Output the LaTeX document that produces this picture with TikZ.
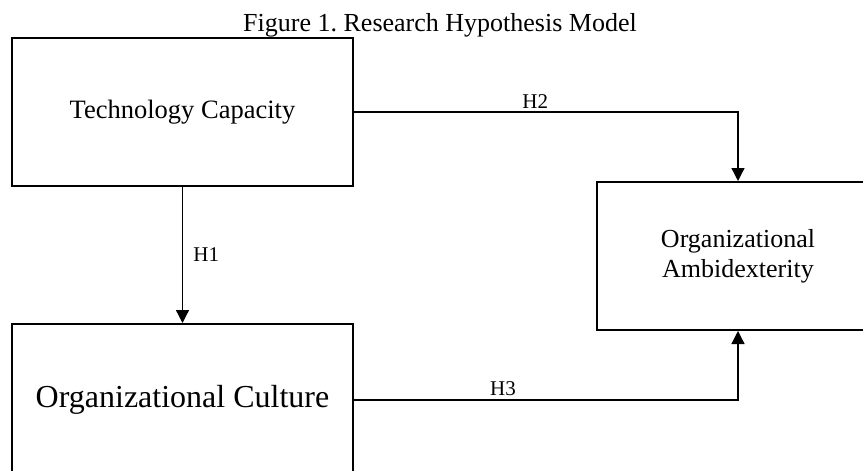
\documentclass[tikz,border=0pt]{standalone}
\usepackage{fontspec}
\setmainfont{Liberation Serif}
\usetikzlibrary{arrows.meta}
\frenchspacing

\begin{document}
\begin{tikzpicture}[x=1pt,y=-1pt,
    box/.style={draw,line width=2pt,minimum width=341pt,minimum height=148pt,inner sep=0pt},
    link/.style={line width=1.3pt,-{Triangle[length=13pt,width=13pt]}},
    hyp/.style={font=\fontsize{21}{24}\selectfont}]
    % page size
    \useasboundingbox (0,0) rectangle (863,471);
    % title
    \node[anchor=base,font=\fontsize{26}{30}\selectfont] (title) at (440,31) {Figure 1. Research Hypothesis Model};
    % boxes
    \node[box,font=\fontsize{26.5}{30}\selectfont] (tech) at (182.5,112) {Technology Capacity};
    \node[box,minimum height=152pt,font=\fontsize{32}{36}\selectfont] (culture) at (182.5,400) {Organizational Culture};
    \node[box,minimum width=282pt,align=center,font=\fontsize{26}{30}\selectfont] (ambi) at (738,256) {Organizational\\Ambidexterity};
    % arrows with hypotheses
    \draw[link] (tech.south) -- node[hyp,right,xshift=7pt]{H1} (culture.north);
    \draw[link] (tech.east) -| node[hyp,above,pos=0.236]{H2} (ambi.north);
    \draw[link] (culture.east) -| node[hyp,above,pos=0.194]{H3} (ambi.south);
\end{tikzpicture}
\end{document}
